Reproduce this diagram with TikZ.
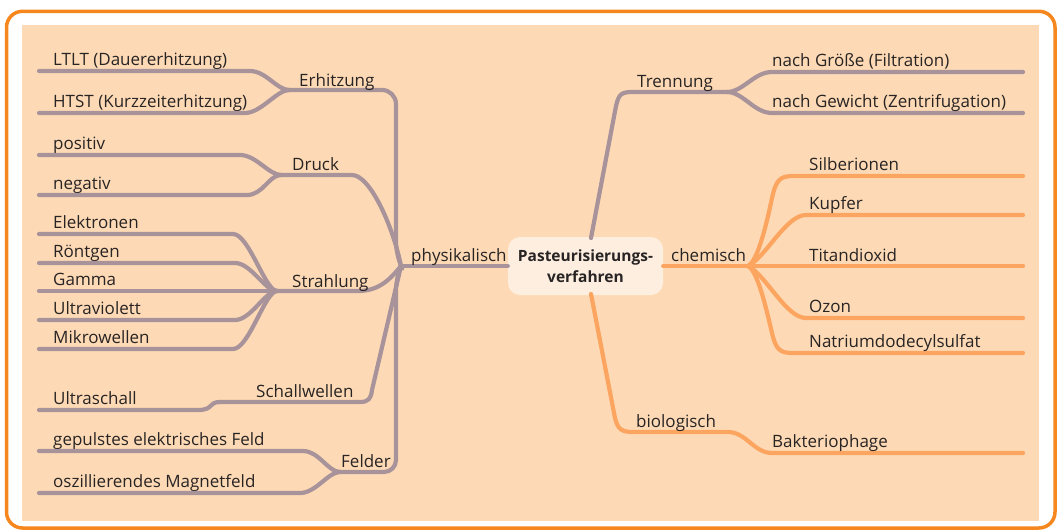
\documentclass[tikz,border=0pt]{standalone}
\usepackage{fontspec}
\setmainfont{Open Sans}
\usetikzlibrary{positioning}
\definecolor{frame}{RGB}{245,135,30}
\definecolor{peach}{RGB}{253,218,181}
\definecolor{mauve}{RGB}{168,147,155}
\definecolor{tangerine}{RGB}{252,165,96}
\definecolor{cream}{RGB}{253,238,224}
\definecolor{ink}{RGB}{40,36,36}
\tikzset{
  twig/.style={draw=#1,line width=4.2pt,line cap=round,line join=round},
  twig/.default=mauve,
  lbl/.style={anchor=base west,inner sep=0pt,font=\fontsize{17}{20}\selectfont,text=ink},
  root/.style={fill=cream,rounded corners=12pt,minimum width=155pt,minimum height=58pt,
    align=center,font=\fontsize{15.5}{21}\selectfont\bfseries,text=ink},
}

\begin{document}
\begin{tikzpicture}[x=1pt,y=-1pt]
  \useasboundingbox (0,0) rectangle (1058,530);
  \draw[frame,line width=3.5pt,rounded corners=16pt] (6.5,11.3) rectangle (1055,528);
  \fill[peach] (22,25) rectangle (1039,521);

  % centre
  \node[root] (root) at (585.5,266) {Pasteurisierungs-\\verfahren};

  % hubs and junctions
  \coordinate (hubP) at (401,266);
  \coordinate (hubC) at (748,266);
  \coordinate (jE) at (289,90);
  \coordinate (jD) at (281,175);
  \coordinate (jS) at (277,291);
  \coordinate (jU) at (220,402);
  \coordinate (jF) at (340,472);
  \coordinate (jT) at (727,92);
  \coordinate (jB) at (728,432);
  \coordinate (tStart) at (591,238);
  \coordinate (bStart) at (591,294);

  % physikalisch
  \draw[twig] (hubP) -- (root.west);
  \draw[twig,rounded corners=14pt] (jE) -- (396,90) -- (396,256) -- (hubP);
  \draw[twig] (jD) -- (352,175) .. controls +(18,0) and +(-8,-40) .. (hubP);
  \draw[twig] (jS) -- (358,291) .. controls +(22,0) and +(-10,12) .. (hubP);
  \draw[twig] (jU) -- (360,402) .. controls (369,402) and (371,398) .. (372,390) -- (hubP);
  \draw[twig,rounded corners=12pt] (jF) -- (396,472) -- (396,278) -- (hubP);

  \node[lbl] (physikalisch) at (411,261) {physikalisch};
  \node[lbl] (erhitzung) at (299,86) {Erhitzung};
  \node[lbl] (druck) at (292,170) {Druck};
  \node[lbl] (strahlung) at (292,287) {Strahlung};
  \node[lbl] (schall) at (256,397) {Schallwellen};
  \node[lbl] (felder) at (341,467) {Felder};

  \foreach \t/\y/\j/\bx [count=\i] in {
    LTLT (Dauererhitzung)/71/jE/250,
    HTST (Kurzzeiterhitzung)/113/jE/245,
    positiv/155/jD/240,
    negativ/195/jD/247,
    Elektronen/234/jS/233,
    Röntgen/263/jS/235,
    Gamma/291/jS/262,
    Ultraviolett/320/jS/235,
    Mikrowellen/349/jS/233,
    Ultraschall/410/jU/198,
    gepulstes elektrisches Feld/451/jF/303,
    oszillierendes Magnetfeld/493/jF/300}
  {
    \coordinate (leaf\i) at (39,\y);
    \node[lbl] (txt\i) at (53,\y-5.5) {\t};
    \draw[twig] (leaf\i) -- (\bx,\y) .. controls +(16,0) and +(-12,0) .. (\j);
  }

  % Trennung
  \draw[twig] (tStart) -- (616,106) .. controls (619,93) and (622,92) .. (634,92) -- (jT);
  \node[lbl] (trennung) at (637,87) {Trennung};
  \coordinate (rGroesse) at (1023,72);
  \coordinate (rGewicht) at (1023,113);
  \draw[twig] (jT) .. controls +(16,0) and +(-18,0) .. (772,72) -- (rGroesse);
  \draw[twig] (jT) .. controls +(16,0) and +(-18,0) .. (772,113) -- (rGewicht);
  \node[lbl] (groesse) at (772,66.5) {nach Größe (Filtration)};
  \node[lbl] (gewicht) at (772,107.5) {nach Gewicht (Zentrifugation)};

  % chemisch
  \draw[twig=tangerine] (root.east) -- (hubC);
  \node[lbl] (chemisch) at (671,261) {chemisch};
  \coordinate (rSilber) at (1023,176);
  \coordinate (rKupfer) at (1023,215);
  \coordinate (rTitan) at (1023,266);
  \coordinate (rOzon) at (1023,318);
  \coordinate (rNatrium) at (1023,353);
  \draw[twig=tangerine] (hubC) .. controls (758,261) and (767,222) .. (772,198)
    .. controls (776,180) and (780,176) .. (793,176) -- (rSilber);
  \draw[twig=tangerine] (hubC) .. controls (766,257) and (786,215) .. (806,215) -- (rKupfer);
  \draw[twig=tangerine] (hubC) -- (rTitan);
  \draw[twig=tangerine] (hubC) .. controls (766,275) and (786,318) .. (806,318) -- (rOzon);
  \draw[twig=tangerine] (hubC) .. controls (758,271) and (767,312) .. (772,333)
    .. controls (776,350) and (780,353) .. (793,353) -- (rNatrium);
  \node[lbl] (silber) at (809,170) {Silberionen};
  \node[lbl] (kupfer) at (809,209.5) {Kupfer};
  \node[lbl] (titan) at (809,261) {Titandioxid};
  \node[lbl] (ozon) at (809,312.5) {Ozon};
  \node[lbl] (natrium) at (809,347.5) {Natriumdodecylsulfat};

  % biologisch
  \coordinate (rPhage) at (1023,453);
  \draw[twig=tangerine] (bStart) -- (615,418) .. controls (618,430) and (622,432) .. (634,432) -- (jB)
    .. controls +(18,0) and +(-18,0) .. (772,453) -- (rPhage);
  \node[lbl] (biologisch) at (636,427) {biologisch};
  \node[lbl] (phage) at (772,447.5) {Bakteriophage};
\end{tikzpicture}
\end{document}
